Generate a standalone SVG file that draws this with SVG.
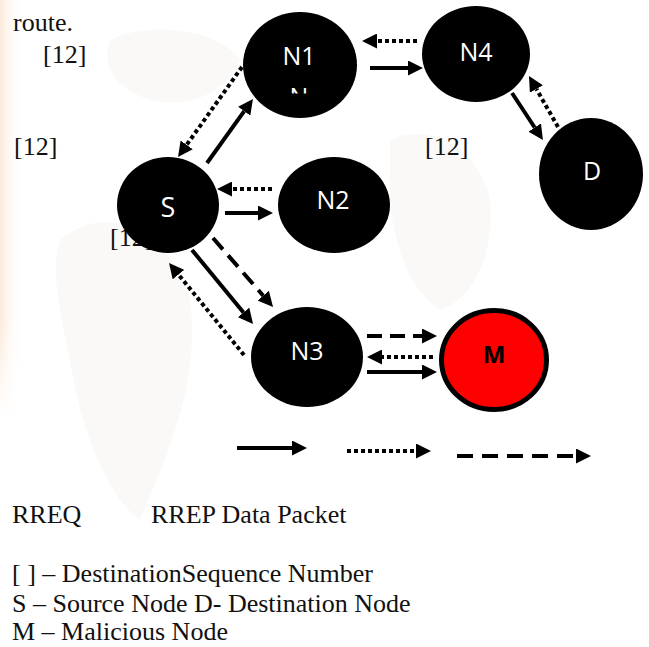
<svg xmlns="http://www.w3.org/2000/svg" width="649" height="647" viewBox="0 0 649 647">
  <defs>
    <style>
      text.txt { font-family: "Liberation Serif", "Times New Roman", serif; font-size: 26px; fill: #111; }
      .node { fill: #000; }
      .lbl { font-family: "Open Sans", "Liberation Sans", sans-serif; font-size: 25px; fill: #fff; text-anchor: middle; }
      .mlbl { font-family: "Open Sans", "Liberation Sans", sans-serif; font-size: 24px; font-weight: bold; fill: #000; text-anchor: middle; }
      .c { fill: none; stroke: #000; stroke-width: 4; }
      .dot { stroke-dasharray: 4 3; }
      .dash { stroke-dasharray: 15 8; }
      .wm { fill: #e6ded3; opacity: 0.18; }
    </style>
    <marker id="ah" markerUnits="userSpaceOnUse" viewBox="0 0 15 15" markerWidth="15" markerHeight="15" refX="0" refY="7.5" orient="auto">
      <path d="M0,0 L15,7.5 L0,15 z" fill="#000"/>
    </marker>
    <clipPath id="nclip">
      <rect x="250" y="80" width="100" height="13.5"/>
    </clipPath>
    <linearGradient id="edge" x1="0" y1="0" x2="1" y2="0">
      <stop offset="0" stop-color="#fbe9d8"/>
      <stop offset="1" stop-color="#ffffff" stop-opacity="0"/>
    </linearGradient>
    <linearGradient id="edgev" x1="0" y1="0" x2="0" y2="1">
      <stop offset="0" stop-color="#fff" stop-opacity="0"/>
      <stop offset="0.75" stop-color="#fff" stop-opacity="0"/>
      <stop offset="1" stop-color="#fff" stop-opacity="1"/>
    </linearGradient>
  </defs>

  <rect width="649" height="647" fill="#fff"/>

  <g id="watermark">
    <rect x="0" y="0" width="22" height="420" fill="url(#edge)"/>
    <rect x="0" y="0" width="22" height="420" fill="url(#edgev)"/>
    <path class="wm" d="M110,40 C150,20 220,30 240,60 C230,90 190,110 150,100 C120,90 100,70 110,40 z"/>
    <path class="wm" d="M60,240 C110,200 170,230 190,300 C200,380 170,450 140,520 C110,500 80,430 70,360 C60,310 50,270 60,240 z"/>
    <path class="wm" d="M390,140 C430,120 480,150 490,200 C495,260 470,300 440,310 C410,290 395,250 390,200 z"/>
  </g>

  <g id="texts" font-family="Liberation Serif, Times New Roman, serif">
    <text class="txt" x="13" y="31">route.</text>
    <text class="txt" x="43" y="63">[12]</text>
    <text class="txt" x="14" y="155">[12]</text>
    <text class="txt" x="425" y="155">[12]</text>
    <text class="txt" x="110" y="246">[12]</text>
  </g>

  <g id="connectors">
    <line class="c dot" x1="417" y1="41" x2="377" y2="41" marker-end="url(#ah)"/>
    <line class="c" x1="370" y1="68" x2="408" y2="68" marker-end="url(#ah)"/>
    <line class="c" x1="512" y1="93" x2="534.7" y2="127.5" marker-end="url(#ah)"/>
    <line class="c dot" x1="558" y1="127" x2="536.4" y2="89" marker-end="url(#ah)"/>
    <line class="c dot" x1="242" y1="67" x2="186.7" y2="144.8" marker-end="url(#ah)"/>
    <line class="c" x1="207" y1="163" x2="244.2" y2="111.2" marker-end="url(#ah)"/>
    <line class="c dot" x1="272" y1="189" x2="232" y2="189" marker-end="url(#ah)"/>
    <line class="c" x1="225" y1="213" x2="258" y2="213" marker-end="url(#ah)"/>
    <line class="c dash" x1="213" y1="238" x2="263.2" y2="295.7" marker-end="url(#ah)"/>
    <line class="c" x1="192" y1="250" x2="243.5" y2="312.4" marker-end="url(#ah)"/>
    <line class="c dot" x1="244" y1="355" x2="178.5" y2="274.6" marker-end="url(#ah)"/>
    <line class="c dash" x1="367" y1="336" x2="422" y2="336" marker-end="url(#ah)"/>
    <line class="c dot" x1="433" y1="357" x2="382" y2="357" marker-end="url(#ah)"/>
    <line class="c" x1="367" y1="372" x2="422" y2="372" marker-end="url(#ah)"/>
    <line class="c" x1="237" y1="448" x2="292" y2="448" marker-end="url(#ah)"/>
    <line class="c dot" x1="347" y1="451" x2="416" y2="451" marker-end="url(#ah)"/>
    <line class="c" style="stroke-dasharray:16 9" x1="457" y1="456" x2="576" y2="456" marker-end="url(#ah)"/>
  </g>

  <g id="node-N1">
    <ellipse class="node" cx="300" cy="65" rx="57" ry="53"/>
    <text class="lbl" x="299" y="65">N1</text>
    <text class="lbl" x="299" y="106" clip-path="url(#nclip)">N</text>
  </g>
  <g id="node-N4">
    <ellipse class="node" cx="476" cy="54" rx="54" ry="48"/>
    <text class="lbl" x="476" y="61">N4</text>
  </g>
  <g id="node-D">
    <ellipse class="node" cx="591" cy="174" rx="52" ry="56"/>
    <text class="lbl" x="592" y="180">D</text>
  </g>
  <g id="node-S">
    <ellipse class="node" cx="168" cy="205" rx="51" ry="48"/>
    <text class="lbl" x="168" y="217" style="font-size:27px">S</text>
  </g>
  <g id="node-N2">
    <ellipse class="node" cx="334" cy="205" rx="56" ry="48"/>
    <text class="lbl" x="333" y="209">N2</text>
  </g>
  <g id="node-N3">
    <ellipse class="node" cx="307" cy="357" rx="56" ry="50"/>
    <text class="lbl" x="307" y="360">N3</text>
  </g>
  <g id="node-M">
    <ellipse cx="494" cy="360" rx="52.5" ry="49.5" fill="#ff0000" stroke="#000" stroke-width="5"/>
    <text class="mlbl" x="494" y="363">M</text>
  </g>

  <g id="legend-text" font-family="Liberation Serif, Times New Roman, serif">
    <text class="txt" x="12" y="523">RREQ</text>
    <text class="txt" x="151" y="523">RREP Data Packet</text>
    <text class="txt" x="12" y="582">[ ] – DestinationSequence Number</text>
    <text class="txt" x="12" y="612">S – Source Node D- Destination Node</text>
    <text class="txt" x="12" y="640">M – Malicious Node</text>
  </g>
</svg>
